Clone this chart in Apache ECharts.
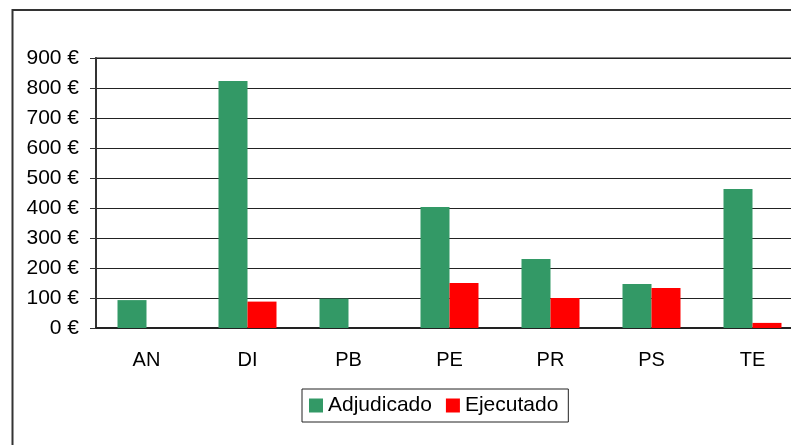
<!DOCTYPE html>
<html>
<head>
<meta charset="utf-8">
<script src="https://cdn.jsdelivr.net/npm/echarts@6/dist/echarts.min.js"></script>
<style>
  html, body { margin: 0; padding: 0; background: #fff; }
  #chart { width: 791px; height: 445px; }
</style>
</head>
<body>
<div id="chart"></div>
<script>
// datos
var categorias = ['AN', 'DI', 'PB', 'PE', 'PR', 'PS', 'TE'];
var adjudicado = [93, 823, 98, 403, 230, 147, 463];
var ejecutado = [0, 88, 0, 150, 100, 133, 17];
var fuente = 'Liberation Sans, Arial, sans-serif';

var chart = echarts.init(document.getElementById('chart'));
chart.setOption({
    animation: false,
    graphic: [{
        type: 'rect',
        shape: { x: 12.5, y: 10, width: 820, height: 460 },
        style: { fill: 'none', stroke: '#333', lineWidth: 2 },
        silent: true
    }],
    grid: {
        left: 96,
        width: 707,
        top: 58,
        height: 270,
        outerBoundsMode: 'none',
        containLabel: false,
        show: true,
        borderColor: '#888',
        borderWidth: 2
    },
    legend: {
        left: 302,
        top: 389,
        data: ['Adjudicado', 'Ejecutado'],
        icon: 'rect',
        itemWidth: 14,
        itemHeight: 14,
        itemGap: 14,
        borderColor: '#222',
        borderWidth: 1,
        padding: [6, 10, 6, 7],
        selectedMode: false,
        textStyle: { fontFamily: fuente, fontSize: 21, color: '#000' }
    },
    xAxis: {
        type: 'category',
        data: categorias,
        axisLine: { lineStyle: { color: '#222', width: 2 } },
        axisTick: { length: 6, lineStyle: { color: '#666', width: 2 } },
        axisLabel: { margin: 22, fontFamily: fuente, fontSize: 20, color: '#000' }
    },
    yAxis: {
        type: 'value',
        min: 0,
        max: 900,
        interval: 100,
        axisLine: { show: true, lineStyle: { color: '#333', width: 2 } },
        axisTick: { show: true, length: 6, lineStyle: { color: '#333' } },
        splitLine: { lineStyle: { color: '#222', width: 1 } },
        axisLabel: {
            margin: 17,
            fontFamily: fuente,
            fontSize: 21,
            color: '#000',
            formatter: '{value} €'
        }
    },
    series: [{
        name: 'Adjudicado',
        type: 'bar',
        barWidth: 29,
        barGap: 0,
        itemStyle: { color: '#339966' },
        data: adjudicado
    }, {
        name: 'Ejecutado',
        type: 'bar',
        barWidth: 29,
        barGap: 0,
        itemStyle: { color: '#ff0000' },
        data: ejecutado
    }]
});
</script>
</body>
</html>
